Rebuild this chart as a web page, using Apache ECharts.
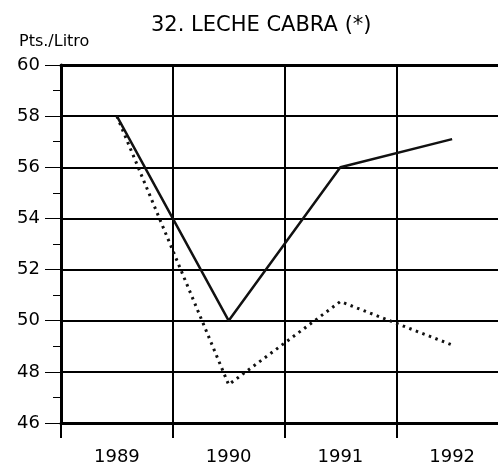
<!DOCTYPE html>
<html>
<head>
<meta charset="utf-8">
<script src="https://cdn.jsdelivr.net/npm/echarts@6/dist/echarts.min.js"></script>
<style>
  html, body { margin: 0; padding: 0; background: #fff; overflow: hidden; }
  /* el gráfico original se corta por la derecha: el lienzo es algo más ancho */
  #chart { width: 508px; height: 466px; }
</style>
</head>
<body>
<div id="chart"></div>
<script>
// datos
const years = ['1989', '1990', '1991', '1992'];
const serieContinua = [58, 50, 56, 57.1];
const seriePuntos = [58, 47.5, 50.75, 49.05];
const yTicks = [46, 48, 50, 52, 54, 56, 58, 60];

const myChart = echarts.init(document.getElementById('chart'));
const fuente = '"DejaVu Sans", "Open Sans", sans-serif';

myChart.setOption({
  animation: false,
  backgroundColor: '#fff',
  title: [
    {
      text: '32. LECHE CABRA (*)',
      left: 146,
      top: 10,
      textStyle: { color: '#000', fontSize: 21, fontWeight: 'normal', fontFamily: fuente }
    },
    {
      text: 'Pts./Litro',
      left: 14,
      top: 29,
      textStyle: { color: '#000', fontSize: 16, fontWeight: 'normal', fontFamily: fuente }
    }
  ],
  grid: { left: 61, right: 0, top: 65, bottom: 42 },
  xAxis: [
    {
      type: 'category',
      data: years,
      boundaryGap: true,
      axisLine: { lineStyle: { color: '#000', width: 3 } },
      axisTick: { show: true, alignWithLabel: false, length: 15, lineStyle: { color: '#000', width: 2 } },
      axisLabel: { color: '#000', fontSize: 18, margin: 25, fontFamily: fuente },
      splitLine: { show: true, lineStyle: { color: '#000', width: 2 } }
    },
    {
      type: 'category',
      data: years,
      position: 'top',
      axisLine: { lineStyle: { color: '#000', width: 3 } },
      axisTick: { show: false },
      axisLabel: { show: false },
      splitLine: { show: false }
    }
  ],
  yAxis: {
    type: 'value',
    min: yTicks[0],
    max: yTicks[yTicks.length - 1],
    interval: 2,
    axisLine: { show: true, lineStyle: { color: '#000', width: 3 } },
    axisTick: { show: true, length: 16, lineStyle: { color: '#000', width: 1 } },
    minorTick: { show: true, splitNumber: 2, length: 8, lineStyle: { color: '#000', width: 1 } },
    axisLabel: { color: '#000', fontSize: 18, margin: 21, fontFamily: fuente },
    splitLine: { show: true, lineStyle: { color: '#000', width: 2 } }
  },
  series: [
    {
      name: 'continua',
      type: 'line',
      data: serieContinua,
      symbol: 'none',
      lineStyle: { color: '#111', width: 2.5 }
    },
    {
      name: 'puntos',
      type: 'line',
      data: seriePuntos,
      symbol: 'none',
      lineStyle: { color: '#111', width: 3, type: [2.5, 4.5] }
    }
  ]
});
</script>
</body>
</html>
